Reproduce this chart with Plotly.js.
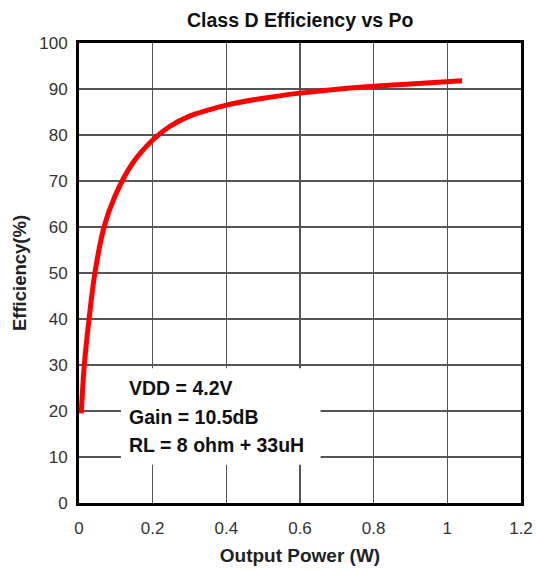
<!DOCTYPE html>
<html>
<head>
<meta charset="utf-8">
<script src="https://cdn.plot.ly/plotly-3.0.1.min.js"></script>
<style>
  html, body { margin: 0; padding: 0; background: #fff; }
  #chart { width: 541px; height: 571px; }
</style>
</head>
<body>
<div id="chart"></div>
<script>
// output power (W) and efficiency (%)
const power = [0.006, 0.014, 0.027, 0.043, 0.068, 0.097, 0.145, 0.2, 0.245, 0.3, 0.35, 0.4, 0.5, 0.6, 0.7, 0.8, 0.9, 1.04];
const efficiency = [19.5, 29.6, 39.8, 49.9, 60, 66.6, 73.8, 78.9, 81.8, 84.1, 85.4, 86.5, 88, 89.1, 89.95, 90.6, 91.1, 91.8];

const xTicks = [0, 0.2, 0.4, 0.6, 0.8, 1, 1.2];
const yTicks = [0, 10, 20, 30, 40, 50, 60, 70, 80, 90, 100];

const conditions = ['VDD = 4.2V', 'Gain = 10.5dB', 'RL = 8 ohm + 33uH'];

const font = '"Liberation Sans", Arial, sans-serif';

const trace = {
  x: power,
  y: efficiency,
  type: 'scatter',
  mode: 'lines',
  line: { color: '#ff0000', width: 5, shape: 'spline', smoothing: 0.8 },
  hoverinfo: 'skip'
};

const axisCommon = {
  showgrid: true,
  gridcolor: '#555555',
  gridwidth: 1.3,
  showline: true,
  linecolor: '#000000',
  linewidth: 3,
  mirror: true,
  ticks: '',
  zeroline: false,
  tickfont: { family: font, size: 17, color: '#333333' }
};

// text lines of the condition box, one annotation each
const condY = [25, 18.8, 12.6];
const annotations = conditions.map((txt, i) => ({
  x: 0.131,
  y: condY[i],
  xref: 'x',
  yref: 'y',
  xanchor: 'left',
  yanchor: 'middle',
  text: '<b>' + txt + '</b>',
  showarrow: false,
  font: { family: font, size: 19.5, color: '#111111' }
}));

const layout = {
  width: 541,
  height: 571,
  margin: { l: 79, r: 20, t: 43, b: 68 },
  paper_bgcolor: '#ffffff',
  plot_bgcolor: '#ffffff',
  showlegend: false,
  title: {
    text: '<b>Class D Efficiency vs Po</b>',
    font: { family: font, size: 19.5, color: '#111111' },
    x: 0.555,
    xanchor: 'center',
    y: 0.965,
    yanchor: 'middle'
  },
  xaxis: Object.assign({}, axisCommon, {
    range: [0, 1.2],
    tickvals: xTicks,
    ticktext: xTicks.map(String),
    ticklabelstandoff: 8,
    title: {
      text: '<b>Output Power (W)</b>',
      font: { family: font, size: 19, color: '#222222' },
      standoff: 12
    }
  }),
  yaxis: Object.assign({}, axisCommon, {
    range: [0, 100],
    tickvals: yTicks,
    ticklabelstandoff: 5,
    title: {
      text: '<b>Efficiency(%)</b>',
      font: { family: font, size: 18.5, color: '#222222' },
      standoff: 8
    }
  }),
  shapes: [{
    type: 'rect',
    xref: 'x', yref: 'y',
    x0: 0.114, x1: 0.656, y0: 8.3, y1: 29.3,
    fillcolor: '#ffffff',
    line: { width: 0 },
    layer: 'above'
  }],
  annotations: annotations
};

Plotly.newPlot('chart', [trace], layout, { displayModeBar: false, staticPlot: true });
</script>
</body>
</html>
